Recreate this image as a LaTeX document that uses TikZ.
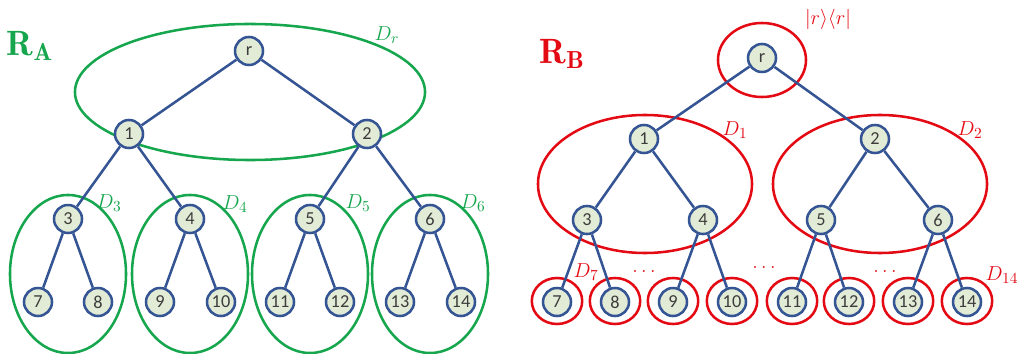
\documentclass[tikz,border=0pt]{standalone}
\usepackage{fontspec}
\newfontfamily\nodefont{Carlito}
\definecolor{gr}{RGB}{22,166,78}
\definecolor{rd}{RGB}{228,10,20}
\definecolor{nb}{RGB}{52,84,148}
\definecolor{nf}{RGB}{226,235,214}
\definecolor{nt}{RGB}{60,60,60}
\begin{document}
\begin{tikzpicture}[x=0.025cm,y=-0.025cm,
  tn/.style={circle,draw=nb,fill=nf,line width=1.8pt,minimum size=0.7cm,inner sep=0pt,
    text=nt,font=\nodefont\fontsize{13}{13}\selectfont},
  ed/.style={draw=nb,line width=1.8pt},
  gring/.style={draw=gr,line width=1.8pt},
  rring/.style={draw=rd,line width=1.8pt},
  glab/.style={text=gr,font=\fontsize{15}{17}\selectfont},
  rlab/.style={text=rd,font=\fontsize{15}{17}\selectfont},
  dts/.style={text=rd,font=\fontsize{14}{14}\selectfont}]
\useasboundingbox (0,0) rectangle (1024,354);

% ---------- Left: R_A ----------
\node[text=gr,font=\fontsize{25}{27}\selectfont] (RA) at (30,46) {$\mathbf{R}_{\mathbf{A}}$};

\draw[gring] (250,92) ellipse [x radius=4.375cm, y radius=1.7cm];
\foreach \cx in {68,190,310,430}
  \draw[gring] (\cx,274) ellipse [x radius=1.45cm, y radius=1.975cm];

\node[tn] (ar) at (249,51) {r};
\node[tn] (a1) at (129,134) {1};
\node[tn] (a2) at (367,134) {2};
\node[tn] (a3) at (68,219) {3};
\node[tn] (a4) at (190,219) {4};
\node[tn] (a5) at (310,219) {5};
\node[tn] (a6) at (430,219) {6};
\node[tn] (a7) at (38,302) {7};
\node[tn] (a8) at (98,302) {8};
\node[tn] (a9) at (160,302) {9};
\node[tn] (a10) at (221,302) {10};
\node[tn] (a11) at (280,302) {11};
\node[tn] (a12) at (340,302) {12};
\node[tn] (a13) at (400,302) {13};
\node[tn] (a14) at (461,302) {14};

\foreach \p/\c in {ar/a1,ar/a2,a1/a3,a1/a4,a2/a5,a2/a6,a3/a7,a3/a8,a4/a9,a4/a10,a5/a11,a5/a12,a6/a13,a6/a14}
  \draw[ed] (\p) -- (\c);

\node[glab] (lDr) at (387,35) {$D_r$};
\node[glab] (lD3) at (109,203) {$D_3$};
\node[glab] (lD4) at (235,204) {$D_4$};
\node[glab] (lD5) at (358,203) {$D_5$};
\node[glab] (lD6) at (473,203) {$D_6$};

% ---------- Right: R_B ----------
\node[text=rd,font=\fontsize{25}{27}\selectfont] (RB) at (562,54) {$\mathbf{R}_{\mathbf{B}}$};

\draw[rring] (762,60) ellipse [x radius=1.1cm, y radius=0.925cm];
\draw[rring] (645,184) ellipse [x radius=2.675cm, y radius=1.725cm];
\draw[rring] (880,184) ellipse [x radius=2.675cm, y radius=1.725cm];
\foreach \cx in {557,615,673,732,792,849,908,967}
  \draw[rring] (\cx,301) ellipse [x radius=0.63cm, y radius=0.575cm];

\node[tn] (br) at (762,58) {r};
\node[tn] (b1) at (644,139) {1};
\node[tn] (b2) at (875,139) {2};
\node[tn] (b3) at (587,220) {3};
\node[tn] (b4) at (703,220) {4};
\node[tn] (b5) at (821,220) {5};
\node[tn] (b6) at (938,220) {6};
\node[tn] (b7) at (557,302) {7};
\node[tn] (b8) at (615,302) {8};
\node[tn] (b9) at (673,302) {9};
\node[tn] (b10) at (732,302) {10};
\node[tn] (b11) at (792,302) {11};
\node[tn] (b12) at (849,302) {12};
\node[tn] (b13) at (908,302) {13};
\node[tn] (b14) at (967,302) {14};

\foreach \p/\c in {br/b1,br/b2,b1/b3,b1/b4,b2/b5,b2/b6,b3/b7,b3/b8,b4/b9,b4/b10,b5/b11,b5/b12,b6/b13,b6/b14}
  \draw[ed] (\p) -- (\c);

\node[rlab] (lrr) at (828,19) {$|r\rangle\langle r|$};
\node[rlab] (lD1) at (735,130) {$D_1$};
\node[rlab] (lD2) at (970,130) {$D_2$};
\node[rlab] (lD7) at (586,272) {$D_7$};
\node[rlab] (lD14) at (1002,275) {$D_{14}$};
\node[dts] (d1) at (644,272) {$\dots$};
\node[dts] (d2) at (764,268) {$\dots$};
\node[dts] (d3) at (885,272) {$\dots$};
\end{tikzpicture}
\end{document}
